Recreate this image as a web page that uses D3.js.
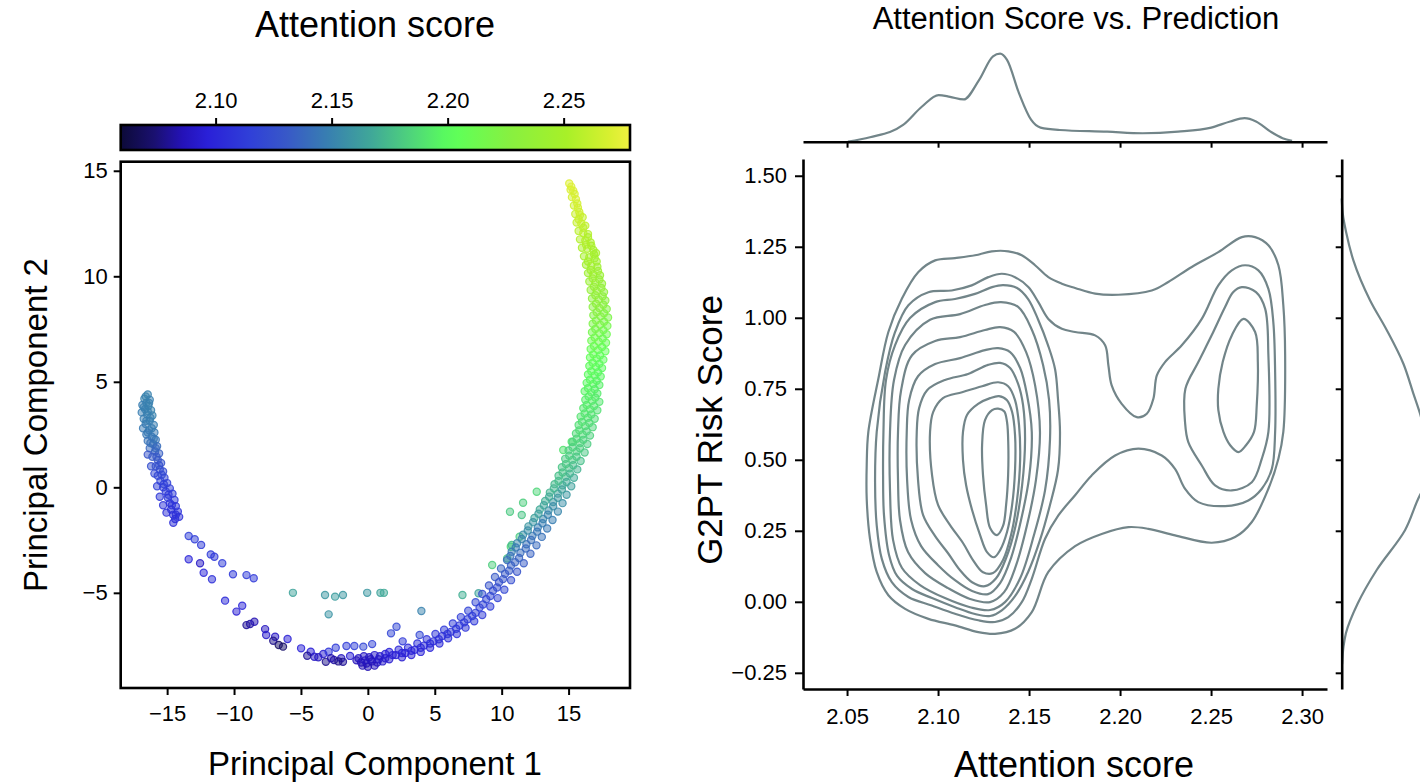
<!DOCTYPE html>
<html>
<head>
<meta charset="utf-8">
<script src="https://cdn.jsdelivr.net/npm/d3@7"></script>
<style>
  body { margin: 0; background: #fff; }
  svg { display: block; font-family: "Liberation Sans", Arial, Helvetica, sans-serif; }
</style>
</head>
<body>
<div id="chart"></div>
<script>
// ---- colour map ----
const cbScores = [2.0591, 2.0736, 2.0858, 2.0966, 2.115, 2.1304, 2.1488, 2.1673, 2.1857, 2.198, 2.2045, 2.2272, 2.2513, 2.2697, 2.2786];
const cbColors = ["#0c0a38", "#1a1070", "#2412b8", "#2a20d8", "#3040d8", "#3858c8", "#3880b0", "#40a898",
                  "#50d878", "#58f860", "#60ff58", "#88f040", "#a8f028", "#d8f030", "#f0f040"];
const cbTicks = [2.10, 2.15, 2.20, 2.25];

// ---- PCA scatter: [PC1, PC2, attention score] ----
const leftArm = [
  [-16.45,4.40,2.150],[-16.70,4.20,2.150],[-16.30,4.15,2.149],[-16.55,4.00,2.150],[-16.85,3.90,2.148],
  [-16.40,3.85,2.150],[-16.65,3.70,2.149],[-16.20,3.65,2.150],[-16.90,3.55,2.148],[-16.50,3.45,2.149],
  [-16.10,3.40,2.150],[-16.75,3.25,2.148],[-16.30,3.15,2.149],[-16.60,3.00,2.147],[-16.00,2.95,2.148],
  [-16.80,2.80,2.146],[-16.35,2.70,2.147],[-15.95,2.60,2.146],[-16.55,2.50,2.145],[-16.15,2.40,2.145],
  [-15.85,2.25,2.144],[-16.45,2.20,2.143],[-16.05,2.05,2.142],[-15.75,1.95,2.140],[-16.30,1.85,2.138],
  [-15.90,1.70,2.136],[-15.60,1.60,2.134],[-16.45,1.55,2.128],[-16.10,1.45,2.132],[-15.70,1.30,2.130],
  [-15.45,1.15,2.128],[-16.20,1.00,2.125],[-15.85,1.00,2.126],[-15.55,0.85,2.124],[-15.30,0.75,2.122],
  [-15.95,0.65,2.120],[-15.70,0.55,2.120],[-15.20,0.45,2.118],[-15.50,0.30,2.117],[-15.00,0.20,2.116],
  [-15.75,0.05,2.115],[-15.30,0.00,2.114],[-14.80,-0.05,2.113],[-15.10,-0.20,2.112],[-14.60,-0.30,2.112],
  [-15.55,-0.45,2.110],[-14.95,-0.50,2.111],[-14.45,-0.60,2.110],[-14.80,-0.75,2.109],[-15.30,-0.85,2.108],
  [-14.35,-0.90,2.108],[-14.70,-1.05,2.107],[-14.20,-1.15,2.107],[-14.55,-1.30,2.106],[-15.05,-1.20,2.106],
  [-14.10,-1.40,2.105],[-14.40,-1.50,2.105],[-14.54,-1.68,2.104],
  [-16.60,4.30,2.150],[-16.35,4.00,2.149],[-16.75,3.80,2.149],[-16.45,3.60,2.149],[-16.25,3.30,2.149],
  [-16.55,3.15,2.148],[-16.15,2.80,2.147],[-16.45,2.60,2.146],[-16.00,2.30,2.145],[-16.25,2.10,2.142],
  [-15.85,1.85,2.138],[-15.80,1.45,2.131],[-15.60,1.05,2.126],[-15.40,0.60,2.121],[-15.25,0.15,2.115],
  [-14.90,-0.35,2.111],[-14.65,-0.85,2.108],[-14.35,-1.30,2.106]
];

const bottomArc = [
  [10.40,-3.45,2.140],[11.00,-3.55,2.135],[11.65,-3.60,2.132],
  [9.95,-3.85,2.136],[10.55,-3.95,2.132],[11.15,-4.00,2.128],
  [9.50,-4.25,2.132],[10.10,-4.35,2.128],[10.70,-4.40,2.124],
  [9.05,-4.65,2.128],[9.65,-4.75,2.124],[10.20,-4.85,2.120],
  [8.55,-5.05,2.124],[9.15,-5.15,2.120],[9.70,-5.25,2.117],
  [8.05,-5.45,2.120],[8.60,-5.55,2.117],[9.15,-5.65,2.114],
  [7.50,-5.85,2.117],[8.05,-5.95,2.114],[8.55,-6.05,2.112],
  [6.95,-6.15,2.114],[7.45,-6.25,2.112],[7.95,-6.35,2.110],
  [6.35,-6.45,2.112],[6.85,-6.55,2.110],[7.30,-6.65,2.108],
  [5.70,-6.75,2.110],[6.20,-6.85,2.108],[6.65,-6.95,2.106],
  [5.05,-6.95,2.108],[5.55,-7.05,2.106],[6.00,-7.15,2.104],
  [4.40,-7.20,2.106],[4.90,-7.30,2.104],[5.35,-7.40,2.102],
  [3.70,-7.40,2.104],[4.20,-7.50,2.102],[4.65,-7.60,2.100],
  [3.00,-7.60,2.102],[3.50,-7.70,2.100],[3.95,-7.80,2.098],
  [2.30,-7.70,2.100],[2.80,-7.85,2.098],[3.25,-7.95,2.096],
  [1.60,-7.80,2.098],[2.10,-7.95,2.096],[2.55,-8.05,2.094],
  [1.30,-7.90,2.096],[0.90,-8.00,2.094],[0.50,-7.95,2.092],[0.10,-8.05,2.090],[-0.30,-8.00,2.090],
  [-0.70,-8.10,2.088],[1.10,-8.25,2.092],[0.70,-8.30,2.090],[0.30,-8.25,2.088],[-0.10,-8.35,2.087],
  [-0.50,-8.30,2.086],[-0.85,-8.20,2.086],[0.50,-8.45,2.086],[0.00,-8.50,2.085],[1.60,-8.15,2.094],
  [-0.40,-8.45,2.085],
  [10.70,-3.70,2.134],[10.25,-4.10,2.130],[9.80,-4.50,2.126],[9.35,-4.90,2.122],[8.85,-5.30,2.119],
  [8.35,-5.70,2.116],[7.80,-6.10,2.113],[7.20,-6.40,2.111],[6.60,-6.70,2.109],[5.95,-6.95,2.107],
  [5.30,-7.20,2.105],[4.65,-7.40,2.103],[3.95,-7.60,2.101],[3.25,-7.75,2.099],[2.55,-7.85,2.097],
  [1.85,-7.95,2.095],[1.30,-8.10,2.093],[0.20,-8.15,2.089],[-0.20,-8.20,2.088],[0.80,-8.15,2.091]
];

const rightArm = [
  [15.05,14.40,2.272],[15.15,14.10,2.270],[15.35,14.05,2.271],[15.25,13.75,2.268],[15.55,13.65,2.270],
  [15.40,13.35,2.266],[15.70,13.25,2.268],[15.50,12.95,2.264],[15.85,12.90,2.266],[16.05,12.80,2.262],
  [15.60,12.55,2.262],[15.95,12.50,2.263],[16.25,12.40,2.260],[15.75,12.15,2.258],[16.10,12.05,2.260],
  [16.45,12.00,2.256],[15.85,11.75,2.255],[16.25,11.70,2.256],[16.65,11.60,2.252],[16.00,11.35,2.252],
  [16.40,11.30,2.253],[16.85,11.25,2.250],[17.05,11.10,2.248],[16.15,10.95,2.249],[16.55,10.90,2.250],
  [16.95,10.85,2.246],[16.30,10.55,2.246],[16.70,10.50,2.247],[17.15,10.45,2.243],[16.45,10.15,2.243],
  [16.85,10.10,2.244],[17.35,10.05,2.240],[16.55,9.75,2.240],[17.00,9.70,2.241],[17.50,9.65,2.236],
  [16.65,9.35,2.236],[17.10,9.30,2.238],[17.65,9.25,2.232],[16.75,8.95,2.232],[17.25,8.90,2.234],
  [17.75,8.85,2.228],[16.80,8.55,2.228],[17.30,8.50,2.230],[17.85,8.45,2.224],[16.85,8.15,2.224],
  [17.40,8.10,2.226],[17.95,8.05,2.220],[16.80,7.75,2.220],[17.35,7.70,2.222],[17.90,7.65,2.216],
  [16.75,7.35,2.216],[17.30,7.30,2.218],[17.85,7.25,2.212],[16.70,6.95,2.212],[17.25,6.90,2.214],
  [17.80,6.85,2.208],[16.65,6.55,2.208],[17.20,6.50,2.210],[17.75,6.45,2.205],[16.60,6.15,2.205],
  [17.10,6.10,2.207],[17.60,6.05,2.202],[16.55,5.75,2.202],[17.05,5.70,2.204],[17.50,5.65,2.200],
  [16.45,5.35,2.200],[16.95,5.30,2.201],[17.40,5.25,2.198],[16.35,4.95,2.198],[16.85,4.90,2.199],
  [17.30,4.85,2.195],[16.20,4.55,2.196],[16.70,4.50,2.197],[17.15,4.45,2.193],
  [16.25,4.15,2.194],[16.75,4.10,2.195],[17.30,4.05,2.191],[16.10,3.75,2.192],[16.60,3.70,2.193],
  [17.15,3.65,2.189],[15.90,3.35,2.190],[16.45,3.30,2.191],[16.95,3.25,2.187],[15.75,2.95,2.188],
  [16.25,2.90,2.189],[16.80,2.85,2.185],[15.55,2.55,2.186],[16.05,2.50,2.187],[16.60,2.45,2.183],
  [15.30,2.15,2.184],[15.85,2.10,2.185],[16.40,2.05,2.181],[15.00,1.75,2.182],[15.60,1.70,2.183],
  [16.20,1.65,2.179],[14.75,1.35,2.180],[15.30,1.30,2.181],[15.90,1.25,2.176],[14.50,0.95,2.178],
  [15.05,0.90,2.178],[15.65,0.85,2.172],[14.25,0.55,2.176],[14.80,0.50,2.175],[15.40,0.45,2.168],
  [13.95,0.15,2.174],[14.55,0.10,2.170],[15.20,0.05,2.164],[13.60,-0.25,2.172],[14.20,-0.30,2.165],
  [14.85,-0.35,2.160],[13.25,-0.65,2.170],[13.85,-0.70,2.160],[14.55,-0.75,2.156],[12.85,-1.05,2.168],
  [13.50,-1.10,2.156],[14.20,-1.15,2.152],[12.45,-1.45,2.165],[13.10,-1.50,2.152],[13.80,-1.55,2.148],
  [12.00,-1.85,2.160],[12.70,-1.90,2.148],[13.40,-1.95,2.145],[11.60,-2.25,2.156],[12.30,-2.30,2.145],
  [13.00,-2.35,2.142],[11.15,-2.65,2.152],[11.85,-2.70,2.142],[12.60,-2.75,2.138],[10.75,-3.05,2.148],
  [11.40,-3.10,2.140],[12.15,-3.15,2.135]
];

const rightArmCore = [
  [15.20,14.25,2.271],[15.45,13.90,2.269],[15.65,13.45,2.267],[15.80,13.05,2.265],[15.75,12.70,2.263],
  [16.10,12.30,2.259],[16.45,11.85,2.254],[16.70,11.45,2.251],[16.30,11.50,2.254],[16.90,11.05,2.248],
  [16.45,10.70,2.248],[17.10,10.70,2.245],[16.65,10.30,2.245],[17.20,10.25,2.242],[16.80,9.90,2.242],
  [17.30,9.85,2.238],[16.90,9.50,2.238],[17.45,9.45,2.235],[17.00,9.10,2.235],[17.55,9.05,2.231],
  [17.05,8.70,2.231],[17.60,8.65,2.227],[17.10,8.30,2.227],[17.65,8.25,2.223],[17.05,7.90,2.222],
  [17.65,7.85,2.219],[17.00,7.50,2.218],[17.60,7.45,2.214],[16.95,7.10,2.214],[17.55,7.05,2.210],
  [16.90,6.70,2.210],[17.50,6.65,2.207],[16.85,6.30,2.207],[17.35,6.25,2.204],[16.80,5.90,2.204],
  [17.30,5.85,2.201],[16.70,5.50,2.201],[17.20,5.45,2.199],[16.60,5.10,2.199],[17.10,5.05,2.197],
  [16.45,4.70,2.197],[16.95,4.65,2.195],[16.50,4.30,2.195],[17.00,4.25,2.193],[16.35,3.90,2.193],
  [16.90,3.85,2.191],[16.20,3.50,2.191],[16.70,3.45,2.189],[16.00,3.10,2.189],[16.55,3.05,2.187],
  [15.80,2.70,2.187],[16.35,2.65,2.185],[15.60,2.30,2.185],[16.10,2.25,2.183],[15.30,1.90,2.183],
  [15.85,1.85,2.181],[15.05,1.50,2.181],[15.60,1.45,2.179],[14.80,1.10,2.179],[15.35,1.05,2.175],
  [14.55,0.70,2.177],[15.10,0.65,2.172],[14.25,0.30,2.175],[14.85,0.25,2.168],[13.90,-0.05,2.172],
  [14.50,-0.10,2.164],[13.55,-0.45,2.168],[14.20,-0.50,2.160],[13.15,-0.85,2.165],[13.85,-0.90,2.155],
  [12.75,-1.25,2.162],[13.45,-1.30,2.150],[12.35,-1.65,2.158],[13.05,-1.70,2.147],[11.95,-2.05,2.155],
  [12.65,-2.10,2.144],[11.50,-2.45,2.150],[12.20,-2.50,2.140],[11.05,-2.85,2.146],[11.80,-2.90,2.138],
  [10.65,-3.25,2.142],[11.30,-3.35,2.136]
];

const strayPts = [
  [-13.39,-2.31,2.115],[-12.94,-2.46,2.113],[-12.46,-2.73,2.112],[-11.74,-3.18,2.112],[-11.47,-3.29,2.110],
  [-10.88,-3.60,2.112],[-13.39,-3.41,2.100],[-12.54,-3.60,2.090],[-12.27,-4.05,2.100],[-11.65,-4.36,2.105],
  [-10.08,-4.12,2.110],[-9.07,-4.16,2.112],[-8.53,-4.31,2.110],[-10.67,-5.37,2.102],[-9.39,-5.61,2.100],
  [-9.82,-5.89,2.095],[-9.07,-6.53,2.080],[-8.80,-6.48,2.082],[-8.48,-6.37,2.085],[-7.68,-6.72,2.088],
  [-7.60,-7.00,2.092],[-6.93,-7.08,2.090],[-6.66,-7.47,2.070],[-6.34,-7.55,2.072],[-7.07,-7.27,2.078],
  [-6.00,-7.19,2.095],[-4.99,-7.63,2.098],[-4.27,-7.79,2.096],[-4.00,-8.03,2.090],[-4.53,-7.98,2.080],
  [-3.33,-7.90,2.094],[-3.14,-8.27,2.078],[-2.93,-7.79,2.108],[-2.53,-8.18,2.082],[-2.40,-7.60,2.112],
  [-1.99,-8.10,2.088],[-1.86,-8.27,2.080],[-1.60,-7.52,2.112],[-1.33,-7.99,2.095],[-1.01,-7.52,2.115],
  [-0.34,-7.55,2.118],[0.32,-7.43,2.116],[-2.20,-8.25,2.078],[-2.75,-8.10,2.084],[-3.70,-8.05,2.088],
  [2.14,-6.61,2.120],[1.73,-6.92,2.118],[3.87,-7.00,2.120],[2.60,-7.30,2.110],[4.00,-5.86,2.150],
  [7.07,-5.10,2.170],[8.27,-5.02,2.165],[9.29,-3.68,2.182],[10.41,-3.37,2.178],[10.68,-2.82,2.185],
  [11.34,-2.34,2.180],[12.62,-0.21,2.185],[11.60,-0.73,2.182],[10.62,-1.16,2.180],[11.50,-1.31,2.178],
  [10.75,-2.73,2.175],[14.60,1.77,2.190],[15.23,2.16,2.192],
  [-5.60,-5.00,2.165],[-3.20,-5.10,2.160],[-2.45,-5.18,2.162],[-1.86,-5.10,2.160],[-2.93,-6.02,2.158],
  [-0.05,-5.00,2.160],[0.94,-5.00,2.165],[1.20,-5.00,2.168]
];

const pcTicks = [-15, -10, -5, 0, 5, 10, 15];
const pc2Ticks = [-5, 0, 5, 10, 15];

// ---- joint plot ----
const scoreTicks = [2.05, 2.10, 2.15, 2.20, 2.25, 2.30];
const riskTicks = [-0.25, 0.00, 0.25, 0.50, 0.75, 1.00, 1.25, 1.50];

// marginal density of attention score: [score, density]
const scoreDensity = [
  [2.0505,0.0],[2.0626,0.5],[2.0808,1.9],[2.0912,4.0],[2.1003,5.3],[2.1066,5.1],[2.1141,4.8],
  [2.1225,7.0],[2.1302,9.7],[2.1341,10.0],[2.1379,9.3],[2.1445,5.5],[2.1511,2.5],[2.1563,1.6],
  [2.1668,1.33],[2.1929,1.14],[2.2124,0.96],[2.2319,1.14],[2.2501,1.6],[2.2605,2.3],[2.2684,2.67],
  [2.2747,2.3],[2.2827,1.14],[2.2893,0.4],[2.2945,0.1]
];
// marginal density of risk score: [risk, density]
const riskDensity = [
  [1.42,0.0],[1.368,0.10],[1.30,0.45],[1.203,1.16],[1.062,2.83],[0.957,4.50],[0.839,6.16],
  [0.734,7.16],[0.663,7.83],[0.60,8.30],[0.55,8.65],[0.50,8.75],[0.45,8.60],[0.40,8.20],
  [0.376,7.83],[0.252,6.33],[0.112,3.50],[-0.006,1.60],[-0.111,0.42],[-0.158,0.18],[-0.22,0.04]
];

// KDE contour lines: [score, risk]
const levelOuter = [[2.0617,0.598],[2.0672,0.785],[2.0727,0.950],[2.0801,1.067],[2.0892,1.161],[2.0984,1.202],[2.1093,1.210],[2.1203,1.220],[2.1295,1.234],[2.1386,1.234],[2.1460,1.220],[2.1533,1.185],[2.1606,1.143],[2.1680,1.120],[2.1753,1.105],[2.1863,1.085],[2.1991,1.081],[2.2174,1.096],[2.2265,1.126],[2.2394,1.179],[2.2540,1.231],[2.2669,1.284],[2.2742,1.284],[2.2815,1.255],[2.2870,1.185],[2.2897,1.044],[2.2907,0.868],[2.2897,0.598],[2.2870,0.504],[2.2815,0.398],[2.2724,0.281],[2.2632,0.228],[2.2504,0.208],[2.2302,0.234],[2.2155,0.257],[2.2046,0.263],[2.1899,0.239],[2.1753,0.196],[2.1606,0.105],[2.1515,-0.036],[2.1423,-0.095],[2.1313,-0.113],[2.1221,-0.107],[2.1093,-0.083],[2.0947,-0.060],[2.0819,-0.025],[2.0727,0.023],[2.0663,0.105],[2.0626,0.222],[2.0608,0.363],[2.0608,0.480]];
const levelWaist = [[2.0663,0.598],[2.0709,0.809],[2.0764,0.950],[2.0837,1.044],[2.0947,1.090],[2.1075,1.096],[2.1185,1.114],[2.1276,1.143],[2.1350,1.155],[2.1423,1.143],[2.1496,1.108],[2.1551,1.055],[2.1606,0.996],[2.1680,0.961],[2.1753,0.950],[2.1863,0.938],[2.1918,0.903],[2.1936,0.832],[2.1954,0.762],[2.2009,0.697],[2.2092,0.650],[2.2147,0.662],[2.2183,0.715],[2.2202,0.797],[2.2247,0.844],[2.2339,0.903],[2.2449,0.996],[2.2540,1.114],[2.2614,1.167],[2.2687,1.185],[2.2760,1.167],[2.2815,1.102],[2.2842,0.985],[2.2852,0.809],[2.2852,0.598],[2.2834,0.468],[2.2779,0.398],[2.2705,0.357],[2.2577,0.337],[2.2430,0.351],[2.2357,0.398],[2.2302,0.468],[2.2229,0.515],[2.2101,0.539],[2.1973,0.515],[2.1844,0.445],[2.1753,0.375],[2.1661,0.304],[2.1588,0.222],[2.1515,0.081],[2.1460,-0.001],[2.1386,-0.054],[2.1313,-0.071],[2.1221,-0.065],[2.1093,-0.042],[2.0965,-0.013],[2.0837,0.017],[2.0746,0.069],[2.0691,0.151],[2.0663,0.269],[2.0654,0.421]];
const leftRings = [
  [[2.0700,0.598],[2.0714,0.781],[2.0764,0.904],[2.0846,0.999],[2.0984,1.055],[2.1093,1.066],[2.1203,1.084],[2.1297,1.108],[2.1357,1.115],[2.1434,1.105],[2.1495,1.066],[2.1549,0.995],[2.1604,0.904],[2.1643,0.819],[2.1659,0.714],[2.1670,0.598],[2.1659,0.464],[2.1615,0.341],[2.1560,0.217],[2.1495,0.105],[2.1423,0.020],[2.1352,-0.029],[2.1286,-0.050],[2.1203,-0.043],[2.1093,-0.019],[2.0967,0.013],[2.0857,0.045],[2.0775,0.091],[2.0731,0.164],[2.0703,0.305],[2.0698,0.446]],
  [[2.0736,0.598],[2.0758,0.781],[2.0819,0.904],[2.0956,0.993],[2.1121,1.013],[2.1258,1.045],[2.1346,1.055],[2.1440,1.038],[2.1516,0.957],[2.1577,0.834],[2.1610,0.711],[2.1615,0.570],[2.1588,0.393],[2.1527,0.235],[2.1451,0.083],[2.1368,-0.001],[2.1286,-0.029],[2.1176,-0.019],[2.1038,0.013],[2.0901,0.059],[2.0802,0.119],[2.0753,0.217],[2.0736,0.393]],
  [[2.0780,0.598],[2.0797,0.745],[2.0857,0.868],[2.0984,0.918],[2.1121,0.932],[2.1258,0.957],[2.1341,0.967],[2.1418,0.950],[2.1484,0.879],[2.1533,0.763],[2.1560,0.598],[2.1538,0.429],[2.1489,0.270],[2.1429,0.129],[2.1363,0.034],[2.1286,-0.001],[2.1176,0.010],[2.1055,0.048],[2.0929,0.101],[2.0835,0.175],[2.0791,0.288],[2.0780,0.429]],
  [[2.0828,0.598],[2.0841,0.710],[2.0890,0.794],[2.0984,0.837],[2.1121,0.858],[2.1258,0.886],[2.1330,0.893],[2.1396,0.879],[2.1451,0.823],[2.1489,0.728],[2.1515,0.598],[2.1500,0.436],[2.1456,0.288],[2.1401,0.154],[2.1341,0.066],[2.1275,0.027],[2.1187,0.038],[2.1093,0.076],[2.1000,0.129],[2.0907,0.196],[2.0852,0.288],[2.0830,0.429]],
  [[2.0883,0.598],[2.0896,0.682],[2.0940,0.745],[2.1038,0.781],[2.1165,0.802],[2.1275,0.834],[2.1341,0.841],[2.1396,0.823],[2.1440,0.767],[2.1467,0.693],[2.1478,0.570],[2.1462,0.411],[2.1423,0.259],[2.1374,0.154],[2.1319,0.083],[2.1258,0.055],[2.1187,0.069],[2.1121,0.111],[2.1055,0.171],[2.0984,0.231],[2.0918,0.305],[2.0890,0.429]],
  [[2.0956,0.598],[2.0973,0.668],[2.1027,0.717],[2.1132,0.738],[2.1242,0.759],[2.1330,0.773],[2.1385,0.759],[2.1423,0.710],[2.1445,0.622],[2.1451,0.499],[2.1434,0.358],[2.1401,0.235],[2.1357,0.147],[2.1302,0.101],[2.1247,0.104],[2.1192,0.147],[2.1137,0.207],[2.1066,0.270],[2.1000,0.341],[2.0967,0.446]],
  [[2.1137,0.598],[2.1159,0.658],[2.1220,0.697],[2.1286,0.717],[2.1335,0.724],[2.1379,0.710],[2.1407,0.668],[2.1423,0.587],[2.1423,0.464],[2.1407,0.341],[2.1379,0.246],[2.1341,0.182],[2.1308,0.157],[2.1269,0.175],[2.1231,0.235],[2.1187,0.323],[2.1154,0.411],[2.1137,0.499]],
  [[2.1258,0.640],[2.1297,0.675],[2.1330,0.680],[2.1363,0.671],[2.1379,0.633],[2.1386,0.552],[2.1385,0.446],[2.1374,0.341],[2.1357,0.267],[2.1324,0.235],[2.1286,0.260],[2.1264,0.341],[2.1247,0.446],[2.1242,0.552]]
];
const rightRings = [
  [[2.2669,1.108],[2.2747,1.090],[2.2797,1.032],[2.2815,0.868],[2.2815,0.598],[2.2779,0.504],[2.2724,0.421],[2.2614,0.392],[2.2522,0.410],[2.2449,0.480],[2.2375,0.562],[2.2357,0.633],[2.2359,0.750],[2.2430,0.844],[2.2504,0.939],[2.2577,1.038],[2.2621,1.090]],
  [[2.2678,0.996],[2.2742,0.950],[2.2757,0.844],[2.2751,0.692],[2.2736,0.598],[2.2692,0.551],[2.2650,0.527],[2.2605,0.551],[2.2568,0.598],[2.2540,0.675],[2.2540,0.750],[2.2564,0.844],[2.2614,0.938]]
];

// ---------------------------------------------------------------
const W = 1420, H = 784;
const svg = d3.select("#chart").append("svg").attr("width", W).attr("height", H);
const lineCol = "#728589";

const cmap = d3.scaleLinear().domain(cbScores).range(cbColors).interpolate(d3.interpolateRgb);

function styleAxis(g, fs) {
  g.selectAll(".tick line").attr("stroke", "#000").attr("stroke-width", 2);
  g.selectAll(".tick text").attr("fill", "#000").attr("font-size", fs);
  g.select(".domain").attr("stroke", "#000").attr("stroke-width", 2.6);
}

// ===== left panel =====
const xPC = d3.scaleLinear().domain([-18.47, 19.59]).range([120.7, 630]);
const yPC = d3.scaleLinear().domain([-9.51, 15.43]).range([688, 161.7]);
const xCb = d3.scaleLinear().domain([2.0591, 2.2786]).range([120.7, 630]);

svg.append("text").attr("x", 375).attr("y", 37).attr("text-anchor", "middle")
  .attr("font-size", 36).text("Attention score");

// colour bar
const grad = svg.append("defs").append("linearGradient").attr("id", "cbGrad")
  .attr("x1", "0%").attr("x2", "100%").attr("y1", "0%").attr("y2", "0%");
grad.selectAll("stop").data(cbScores).join("stop")
  .attr("offset", d => ((xCb(d) - 120.7) / (630 - 120.7) * 100) + "%")
  .attr("stop-color", (d, i) => cbColors[i]);
svg.append("rect").attr("x", 120.7).attr("y", 125).attr("width", 630 - 120.7).attr("height", 25)
  .attr("fill", "url(#cbGrad)").attr("stroke", "#000").attr("stroke-width", 2.6);
const cbAxis = svg.append("g").attr("transform", "translate(0,125)")
  .call(d3.axisTop(xCb).tickValues(cbTicks).tickFormat(d3.format(".2f")).tickSize(7).tickPadding(10).tickSizeOuter(0));
styleAxis(cbAxis, 22);
cbAxis.select(".domain").remove();

// scatter
const pts = [].concat(strayPts, bottomArc, leftArm, rightArm, rightArmCore);
svg.append("g").selectAll("circle").data(pts).join("circle")
  .attr("cx", d => xPC(d[0])).attr("cy", d => yPC(d[1])).attr("r", 3.6)
  .attr("fill", d => cmap(d[2])).attr("fill-opacity", 0.5)
  .attr("stroke", d => cmap(d[2])).attr("stroke-opacity", 0.85).attr("stroke-width", 1.2);

svg.append("rect").attr("x", 120.7).attr("y", 161.7).attr("width", 630 - 120.7).attr("height", 688 - 161.7)
  .attr("fill", "none").attr("stroke", "#000").attr("stroke-width", 2.6);

const axPCx = svg.append("g").attr("transform", "translate(0,688)")
  .call(d3.axisBottom(xPC).tickValues(pcTicks).tickSize(7).tickPadding(10).tickSizeOuter(0));
styleAxis(axPCx, 22); axPCx.select(".domain").remove();
const axPCy = svg.append("g").attr("transform", "translate(120.7,0)")
  .call(d3.axisLeft(yPC).tickValues(pc2Ticks).tickSize(7).tickPadding(6).tickSizeOuter(0));
styleAxis(axPCy, 22); axPCy.select(".domain").remove();

svg.append("text").attr("x", 375).attr("y", 775).attr("text-anchor", "middle")
  .attr("font-size", 33).text("Principal Component 1");
svg.append("text").attr("transform", "translate(47,425) rotate(-90)").attr("text-anchor", "middle")
  .attr("font-size", 33).text("Principal Component 2");

// ===== right panel =====
const xR = d3.scaleLinear().domain([2.0258, 2.3137]).range([803, 1327]);
const yR = d3.scaleLinear().domain([-0.307, 1.559]).range([689, 159]);
const yTop = d3.scaleLinear().domain([0, 10]).range([141.7, 53.7]);
const xSide = d3.scaleLinear().domain([0, 10]).range([1341.7, 1441.7]);

svg.append("text").attr("x", 1076).attr("y", 29).attr("text-anchor", "middle")
  .attr("font-size", 31).text("Attention Score vs. Prediction");

// top marginal
svg.append("path").datum(scoreDensity)
  .attr("d", d3.line().x(d => xR(d[0])).y(d => yTop(d[1])).curve(d3.curveMonotoneX))
  .attr("fill", "none").attr("stroke", lineCol).attr("stroke-width", 2.2);
const axTop = svg.append("g").attr("transform", "translate(0,141.7)")
  .call(d3.axisBottom(xR).tickValues(scoreTicks).tickFormat("").tickSize(6).tickSizeOuter(0));
styleAxis(axTop, 0);

// side marginal
svg.append("path").datum(riskDensity)
  .attr("d", d3.line().x(d => xSide(d[1])).y(d => yR(d[0])).curve(d3.curveMonotoneY))
  .attr("fill", "none").attr("stroke", lineCol).attr("stroke-width", 2.2);
const axSide = svg.append("g").attr("transform", "translate(1341.7,0)")
  .call(d3.axisLeft(yR).tickValues(riskTicks).tickFormat("").tickSize(6).tickSizeOuter(0));
styleAxis(axSide, 0);

// contours
const ring = d3.line().x(d => xR(d[0])).y(d => yR(d[1])).curve(d3.curveCatmullRomClosed.alpha(0.5));
const levels = [levelOuter, levelWaist].concat(leftRings, rightRings);
svg.append("g").selectAll("path").data(levels).join("path")
  .attr("d", ring).attr("fill", "none").attr("stroke", lineCol).attr("stroke-width", 2.2);

const axRx = svg.append("g").attr("transform", "translate(0,689)")
  .call(d3.axisBottom(xR).tickValues(scoreTicks).tickFormat(d3.format(".2f")).tickSize(7).tickPadding(12).tickSizeOuter(0));
styleAxis(axRx, 22);
const axRy = svg.append("g").attr("transform", "translate(803,0)")
  .call(d3.axisLeft(yR).tickValues(riskTicks).tickFormat(d3.format(".2f")).tickSize(8).tickPadding(8).tickSizeOuter(0));
styleAxis(axRy, 22);

svg.append("text").attr("x", 1074).attr("y", 777).attr("text-anchor", "middle")
  .attr("font-size", 36).text("Attention score");
svg.append("text").attr("transform", "translate(722,430) rotate(-90)").attr("text-anchor", "middle")
  .attr("font-size", 35).text("G2PT Risk Score");
</script>
</body>
</html>
